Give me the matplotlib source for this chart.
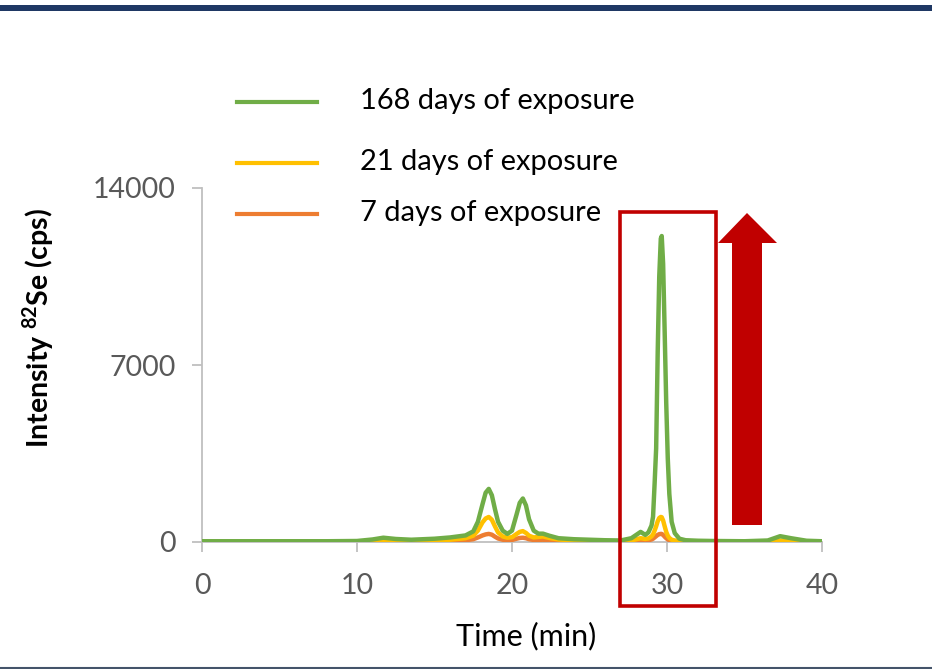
import matplotlib
matplotlib.use('Agg')
import matplotlib.pyplot as plt
from matplotlib.patches import Rectangle, Polygon
from matplotlib.lines import Line2D

plt.rcParams['font.family'] = ['Lato', 'DejaVu Sans']
plt.rcParams['mathtext.fontset'] = 'custom'
plt.rcParams['mathtext.rm'] = 'Lato'
plt.rcParams['mathtext.bf'] = 'Lato:bold'

# retention time (min)
time = [0, 2, 4, 6, 8, 10, 11, 11.7, 12.5, 13.5, 15, 16, 17, 17.5, 17.8, 18.1, 18.3, 18.5,
        18.7, 18.9, 19.1, 19.4, 19.7, 20.0, 20.3, 20.5, 20.7, 20.9, 21.1, 21.4, 21.7,
        22.0, 22.4, 23, 24, 25, 26, 27, 27.7, 28.3, 28.6, 28.8, 29.0, 29.1, 29.2, 29.3,
        29.4, 29.5, 29.6, 29.66, 29.75, 29.85, 29.95, 30.05, 30.15, 30.3, 30.5, 30.8,
        31.2, 32, 33, 35, 36.5, 37.3, 38, 39, 40]

# 82Se intensity (cps)
days_168 = [30, 30, 30, 30, 30, 40, 100, 170, 120, 90, 130, 180, 260, 420, 800, 1500, 1950, 2100,
            1850, 1300, 800, 450, 320, 450, 1100, 1550, 1720, 1450, 900, 450, 330,
            330, 250, 150, 110, 90, 70, 60, 150, 400, 280, 380, 650, 1000, 2300, 3700,
            7500, 10500, 12000, 12100, 11000, 8300, 5500, 3300, 1900, 800, 350, 130,
            70, 50, 40, 30, 60, 230, 150, 50, 30]
days_21 = [20, 20, 20, 20, 20, 25, 40, 60, 45, 40, 60, 90, 150, 250, 450, 780, 930, 990,
           880, 620, 380, 220, 170, 190, 320, 400, 430, 360, 250, 180, 200,
           220, 160, 100, 60, 45, 35, 30, 60, 150, 120, 140, 220, 300, 450, 620,
           820, 950, 990, 980, 850, 620, 400, 250, 160, 90, 60, 40,
           30, 25, 20, 20, 30, 60, 45, 25, 20]
days_7 = [10, 10, 10, 10, 10, 12, 20, 30, 25, 20, 30, 45, 70, 110, 180, 260, 300, 320,
          290, 210, 140, 90, 70, 80, 130, 160, 170, 150, 110, 80, 85,
          90, 70, 50, 30, 25, 20, 15, 30, 70, 60, 70, 100, 130, 180, 230,
          280, 310, 320, 320, 280, 210, 150, 100, 70, 45, 30, 20,
          15, 12, 10, 10, 15, 30, 20, 12, 10]

series_labels = ['168 days of exposure', '21 days of exposure', '7 days of exposure']
series_colors = ['#70AD47', '#FFC000', '#ED7D31']

W, H = 932, 669
fig = plt.figure(figsize=(W / 100, H / 100), dpi=100)
ax = fig.add_axes([202 / W, 1 - 542 / H, 620 / W, 354 / H])

ax.plot(time, days_7, color=series_colors[2], lw=3.2, zorder=3, solid_joinstyle='round')
ax.plot(time, days_21, color=series_colors[1], lw=3.2, zorder=4, solid_joinstyle='round')
ax.plot(time, days_168, color=series_colors[0], lw=3.2, zorder=5, solid_joinstyle='round')

ax.set_xlim(0, 40)
ax.set_ylim(0, 14000)
ax.set_xticks([0, 10, 20, 30, 40])
ax.set_yticks([0, 7000, 14000])
for s in ['top', 'right']:
    ax.spines[s].set_visible(False)
for s in ['left', 'bottom']:
    ax.spines[s].set_color('#BFBFBF')
    ax.spines[s].set_linewidth(1.3)
ax.tick_params(colors='#BFBFBF', labelcolor='#595959', labelsize=20.5, length=7, width=1.3, pad=12)
ax.tick_params(axis='x', pad=15)

ax.set_xlabel('Time (min)', fontsize=22, color='black')
ax.xaxis.set_label_coords((526 - 202) / 620, (542 - 622) / 354)
fig.text(38 / W, 1 - 328 / H, r'Intensity $^{\mathbf{82}}$Se (cps)', rotation=90,
         fontsize=20.5, fontweight='bold', ha='center', va='center')

# legend drawn by hand so the row spacing can follow the slide
legend_rows = [102, 163, 214]
for lab, col, yy in zip(series_labels, series_colors, legend_rows):
    fig.add_artist(Line2D([237 / W, 317 / W], [1 - yy / H, 1 - yy / H], color=col, lw=3))
    fig.text(360 / W, 1 - (yy - 1) / H, lab, fontsize=20.9, va='center', ha='left')

# highlight box around the 30 min peak
fig.add_artist(Rectangle((620 / W, 1 - 606 / H), 96 / W, 394 / H, fill=False,
                         edgecolor='#C00000', lw=2.6))

# upward arrow
arrow_px = [(732, 525), (762, 525), (762, 243), (777, 243), (747, 213), (718, 243), (732, 243)]
fig.add_artist(Polygon([(x / W, 1 - y / H) for x, y in arrow_px], closed=True,
                       facecolor='#C00000', edgecolor='none'))

# slide frame lines
fig.add_artist(Rectangle((0, 1 - 11 / H), 1, 6.5 / H, facecolor='#1F3864', edgecolor='none'))
fig.add_artist(Line2D([0, 1], [1 - 667.5 / H, 1 - 667.5 / H], color='#44546A', lw=1.5))

fig.savefig('out.png', dpi=100)
